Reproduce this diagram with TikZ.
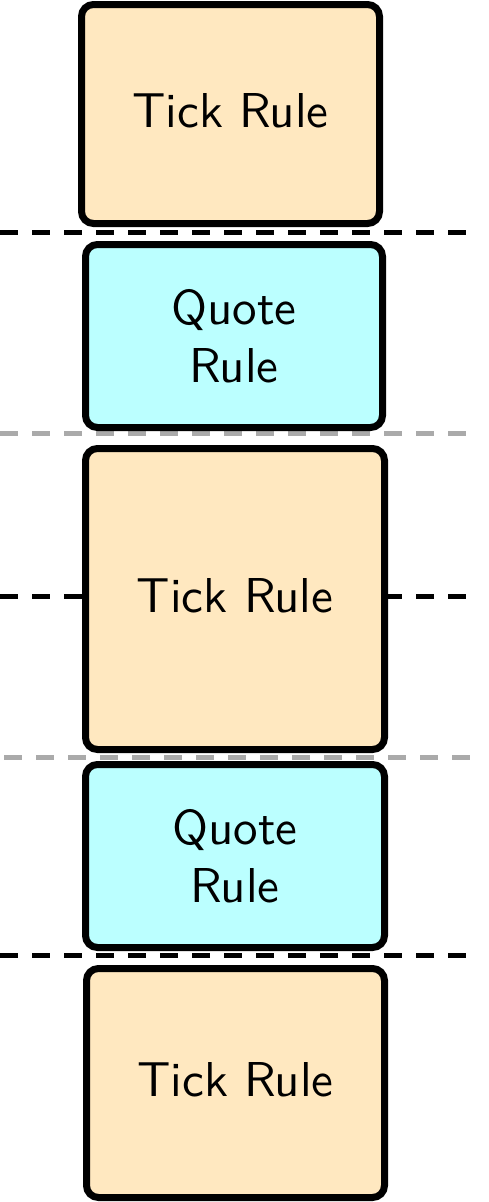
\documentclass[tikz,border=0pt]{standalone}
\usepackage{fontspec}
\newfontfamily\boxfont{lmsans10-regular.otf}
\begin{document}
\definecolor{tickfill}{HTML}{FFE8C0}
\definecolor{quotefill}{HTML}{BBFFFF}
\definecolor{sepgray}{HTML}{AAAAAA}
\begin{tikzpicture}[x=1pt,y=-1pt,
  rulebox/.style={draw=black, line width=7pt, rounded corners=12pt,
    inner sep=0pt, align=center,
    font=\boxfont\fontsize{49}{58}\selectfont},
  tickbox/.style={rulebox, fill=tickfill, text depth=7pt},
  quotebox/.style={rulebox, fill=quotefill},
  sepline/.style={line width=5pt, dash pattern=on 18pt off 14pt},
  darksep/.style={sepline, draw=black},
  lightsep/.style={sepline, draw=sepgray}]
\useasboundingbox (0,0) rectangle (488,1202);

% separators between the rule boxes (drawn first, so boxes cover them)
\draw[darksep]  (0,232) -- (470,232);
\draw[lightsep] (0,433) -- (470,433);
\draw[darksep]  (0,596) -- (470,596);
\draw[lightsep] (4,757) -- (472,757);
\draw[darksep]  (0,955) -- (470,955);

% rule boxes
\node[tickbox,  minimum width=298pt, minimum height=219pt] (t1) at (230.5,114) {Tick Rule};
\node[quotebox, minimum width=297pt, minimum height=183pt] (q1) at (234,336)   {Quote\\Rule};
\node[tickbox,  minimum width=299pt, minimum height=301pt] (t2) at (235,599)   {Tick Rule};
\node[quotebox, minimum width=299pt, minimum height=183pt] (q2) at (235,856)   {Quote\\Rule};
\node[tickbox,  minimum width=298pt, minimum height=229pt] (t3) at (235.5,1083) {Tick Rule};
\end{tikzpicture}
\end{document}
